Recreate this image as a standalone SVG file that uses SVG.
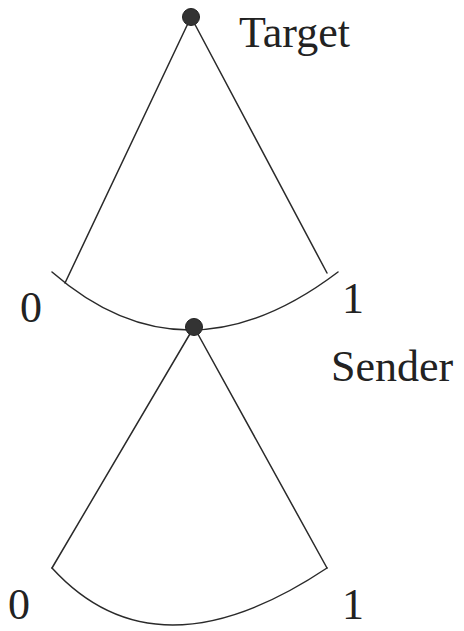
<svg xmlns="http://www.w3.org/2000/svg" width="464" height="631" viewBox="0 0 464 631">
<style>
.l{fill:none;stroke:#2a2a2a;stroke-width:1.5;stroke-linecap:round}
.d{fill:#333;stroke:#222;stroke-width:1}
.t{font-family:"Liberation Serif","Times New Roman",serif;font-size:44px;fill:#222}
</style>
<rect width="464" height="631" fill="#fff"/>
<g id="connectors">
<path class="l" d="M191,17 L65,283"/>
<path class="l" d="M191,17 L327,273"/>
<path class="l" d="M52,272 Q185,388 338,272"/>
<path class="l" d="M194,327 L52,568"/>
<path class="l" d="M194,327 L327,568"/>
<path class="l" d="M52,568 Q156,682 327,568"/>
</g>
<g id="target">
<circle class="d" cx="191" cy="17" r="8.5"/>
<text class="t" x="239" y="47">Target</text>
</g>
<g id="sender">
<circle class="d" cx="194" cy="327" r="8.5"/>
<text class="t" x="331" y="381">Sender</text>
</g>
<g id="labels">
<text class="t" x="20" y="322">0</text>
<text class="t" x="342" y="313">1</text>
<text class="t" x="8" y="619">0</text>
<text class="t" x="342" y="619">1</text>
</g>
</svg>
